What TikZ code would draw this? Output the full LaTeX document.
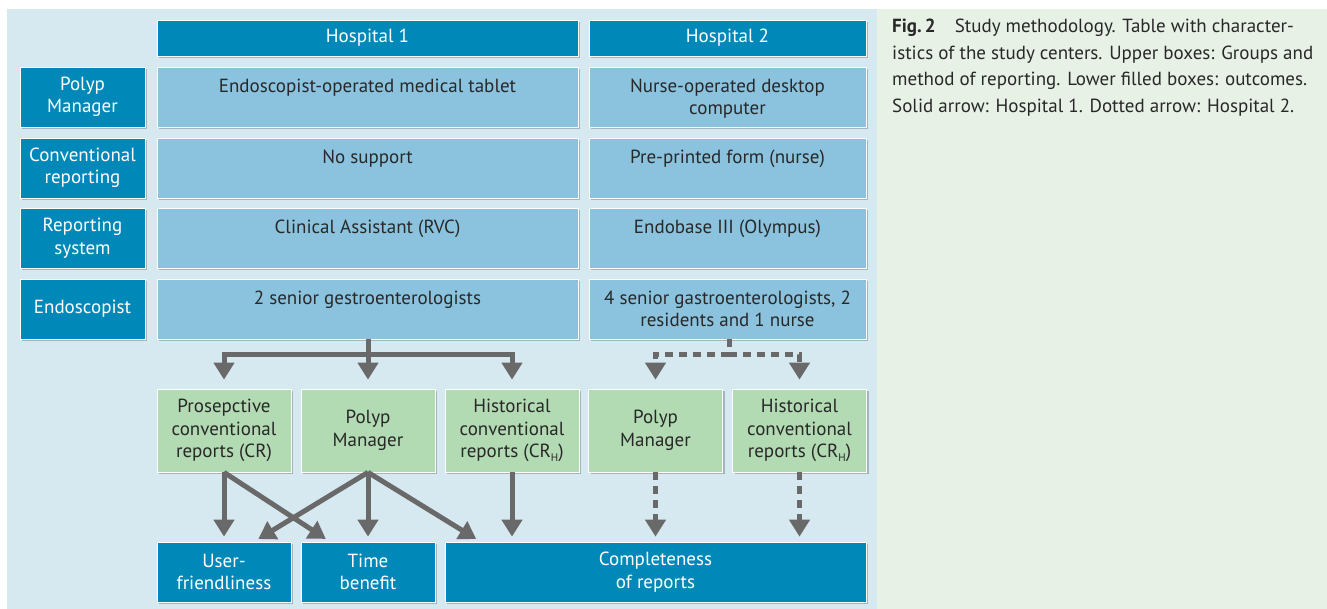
\documentclass[tikz,border=0pt]{standalone}
\usepackage{fontspec}
\setmainfont{PT Sans}
\usetikzlibrary{arrows.meta,shadows}
\definecolor{hdark}{RGB}{0,137,184}
\definecolor{hlight}{RGB}{139,195,222}
\definecolor{bgpanel}{RGB}{214,232,240}
\definecolor{hgreen}{RGB}{179,219,179}
\definecolor{rpanel}{RGB}{231,241,230}
\definecolor{agray}{RGB}{105,105,105}
\definecolor{tdark}{RGB}{40,40,40}
\newcommand{\subH}{\raisebox{-4pt}{\fontsize{11}{11}\selectfont H}}
\tikzset{
  box/.style={draw=white, line width=0.7pt, inner sep=0pt, align=center,
    drop shadow={shadow xshift=2pt, shadow yshift=-2pt, opacity=0.22, fill=black}},
  hdr/.style={box, fill=hdark, text=white, font=\fontsize{19}{22.5}\selectfont},
  cell/.style={box, fill=hlight},
  grn/.style={box, fill=hgreen, text=tdark, font=\fontsize{19}{22.5}\selectfont},
  ctext/.style={anchor=north, inner sep=0pt, align=center, text=tdark, font=\fontsize{19}{22.5}\selectfont},
  arr/.style={draw=agray, line width=5pt, -{Triangle[width=20pt,length=17pt]}},
  dsh/.style={arr, dash pattern=on 8pt off 6pt},
}
\begin{document}
\begin{tikzpicture}[x=1pt,y=-1pt]
\useasboundingbox (0,0) rectangle (1327,609);
\fill[white] (0,0) rectangle (1327,609);
\fill[bgpanel] (7,9) rectangle (877,609);
\fill[rpanel] (877,9) rectangle (1327,609);

% headers
\node[hdr, minimum width=421pt, minimum height=36pt] (h1) at (367.5,38) {Hospital 1};
\node[hdr, minimum width=277pt, minimum height=36pt] (h2) at (727.5,38) {Hospital 2};

% row labels
\node[hdr, minimum width=125pt, minimum height=60pt] (l1) at (82.5,97) {Polyp\\Manager};
\node[hdr, minimum width=125pt, minimum height=60pt] (l2) at (82.5,168) {Conventional\\reporting};
\node[hdr, minimum width=125pt, minimum height=60pt] (l3) at (82.5,238) {Reporting\\system};
\node[hdr, minimum width=125pt, minimum height=60pt] (l4) at (82.5,309) {Endoscopist};

% cells
\node[cell, minimum width=421pt, minimum height=60pt] (c1a) at (367.5,97) {};
\node[cell, minimum width=277pt, minimum height=60pt] (c1b) at (727.5,97) {};
\node[cell, minimum width=421pt, minimum height=60pt] (c2a) at (367.5,168) {};
\node[cell, minimum width=277pt, minimum height=60pt] (c2b) at (727.5,168) {};
\node[cell, minimum width=421pt, minimum height=60pt] (c3a) at (367.5,238) {};
\node[cell, minimum width=277pt, minimum height=60pt] (c3b) at (727.5,238) {};
\node[cell, minimum width=421pt, minimum height=60pt] (e1) at (367.5,309) {};
\node[cell, minimum width=277pt, minimum height=60pt] (e2) at (727.5,309) {};

\node[ctext] (t1a) at ([yshift=-12pt]c1a.north) {Endoscopist-operated medical tablet};
\node[ctext] (t1b) at ([yshift=-12pt]c1b.north) {Nurse-operated desktop\\computer};
\node[ctext] (t2a) at ([yshift=-12pt]c2a.north) {No support};
\node[ctext] (t2b) at ([yshift=-12pt]c2b.north) {Pre-printed form (nurse)};
\node[ctext] (t3a) at ([yshift=-12pt]c3a.north) {Clinical Assistant (RVC)};
\node[ctext] (t3b) at ([yshift=-12pt]c3b.north) {Endobase III (Olympus)};
\node[ctext] (t4a) at ([yshift=-12pt]e1.north) {2 senior gestroenterologists};
\node[ctext] (t4b) at ([yshift=-12pt]e2.north) {4 senior gastroenterologists, 2\\residents and 1 nurse};

% groups
\node[grn, minimum width=134pt, minimum height=83pt] (cr) at (224,430.5) {Prosepctive\\conventional\\reports (CR)};
\node[grn, minimum width=134pt, minimum height=83pt] (pm) at (368,430.5) {Polyp\\Manager};
\node[grn, minimum width=134pt, minimum height=83pt] (hc) at (512,430.5) {Historical\\conventional\\reports (CR\subH)};
\node[grn, minimum width=134pt, minimum height=83pt] (pm2) at (655.5,430.5) {Polyp\\Manager};
\node[grn, minimum width=134pt, minimum height=83pt] (hc2) at (799.5,430.5) {Historical\\conventional\\reports (CR\subH)};

% outcomes
\node[hdr, minimum width=134pt, minimum height=60pt] (uf) at (224,572) {User-\\friendliness};
\node[hdr, minimum width=134pt, minimum height=60pt] (tb) at (368,572) {Time\\benefit};
\node[hdr, minimum width=421pt, minimum height=60pt] (co) at (655.5,572) {Completeness\\of reports};

% hospital 1 arrows
\coordinate (j1) at (368,354);
\draw[arr, shorten >=9pt] (e1.south -| pm.north) -- (pm.north);
\draw[arr, shorten >=9pt] (e1.south -| pm.north) -- (j1) -| (cr.north);
\draw[arr, shorten >=9pt] (e1.south -| pm.north) -- (j1) -| (hc.north);

\draw[arr, shorten >=5pt] (cr.south) -- (cr.south |- uf.north);
\draw[arr, shorten >=5pt] (cr.south) -- ([xshift=-38pt]tb.north);
\draw[arr, shorten >=5pt] (pm.south) -- ([xshift=30pt]uf.north);
\draw[arr, shorten >=5pt] (pm.south) -- (tb.north);
\draw[arr, shorten >=5pt] (pm.south) -- ([xshift=-175pt]co.north);
\draw[arr, shorten >=5pt] (hc.south) -- (hc.south |- co.north);

% hospital 2 arrows
\coordinate (j2) at (729,354);
\draw[dsh, -] (e2.south -| j2) -- (j2);
\draw[dsh, shorten >=9pt] (j2) -| (pm2.north);
\draw[dsh, shorten >=9pt] (j2) -| (hc2.north);
\draw[dsh, shorten >=5pt] (pm2.south) -- (pm2.south |- co.north);
\draw[dsh, shorten >=5pt] (hc2.south) -- (hc2.south |- co.north);

% caption
\node[anchor=north west, inner sep=0pt, align=left, text=tdark,
  font=\fontsize{19}{26.5}\selectfont] (cap) at (892,19)
  {\textbf{Fig.\,2}\quad Study methodology. Table with character-\\
   istics of the study centers. Upper boxes: Groups and\\
   method of reporting. Lower filled boxes: outcomes.\\
   Solid arrow: Hospital 1. Dotted arrow: Hospital 2.};
\end{tikzpicture}
\end{document}
